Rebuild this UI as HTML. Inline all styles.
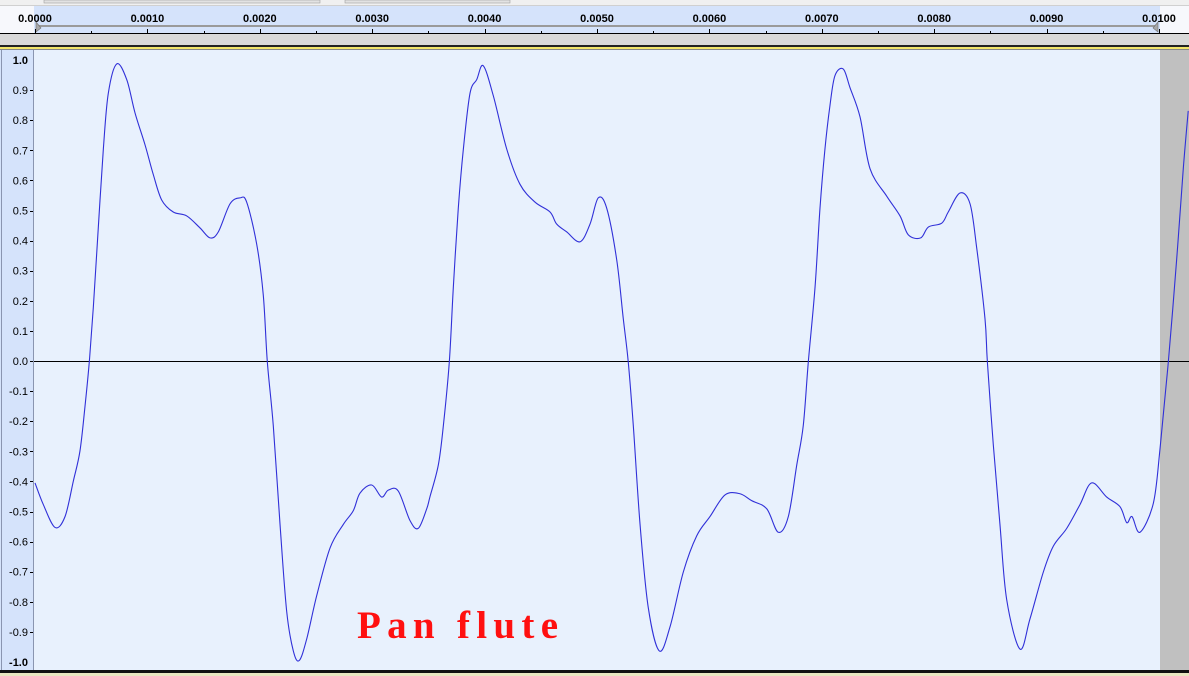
<!DOCTYPE html>
<html><head><meta charset="utf-8"><title>Pan flute waveform</title>
<style>
html,body{margin:0;padding:0;background:#f0f0f0;}
body{width:1189px;height:676px;overflow:hidden;font-family:"Liberation Sans",sans-serif;}
svg{display:block;}
</style></head>
<body>
<svg id="chart" width="1189" height="676" viewBox="0 0 1189 676" xmlns="http://www.w3.org/2000/svg">
  <rect x="0" y="0" width="1189" height="5" fill="#f0f0f0"/>
  <rect x="44" y="0" width="276" height="3" fill="#e2e2e2" stroke="#a0a0a0" stroke-width="0.6"/>
  <rect x="345" y="0" width="165" height="3" fill="#e2e2e2" stroke="#a0a0a0" stroke-width="0.6"/>
  <rect x="0" y="5" width="1189" height="29" fill="#f7f8fc"/>
  <rect x="34" y="5" width="1126" height="29" fill="#d5e3fb"/>
  <line x1="0" y1="5.5" x2="1189" y2="5.5" stroke="#d0d0d0"/>
  <rect x="37" y="25" width="1120" height="2" fill="#9a9a9a"/>
  <polygon points="36,22 41,28 36,32" fill="#a8a8a8" stroke="#707070" stroke-width="0.6"/>
  <polygon points="1158,22 1153,28 1158,32" fill="#a8a8a8" stroke="#707070" stroke-width="0.6"/>
  <g id="ruler-ticks"></g>
  <line x1="0" y1="33.5" x2="1189" y2="33.5" stroke="#000"/>
  <rect x="0" y="34" width="1189" height="11" fill="#d9d9d9"/>
  <rect x="0" y="45" width="1189" height="2" fill="#222"/>
  <rect x="0" y="47" width="1189" height="2" fill="#f2e56a"/>
  <line x1="0" y1="49.5" x2="1189" y2="49.5" stroke="#888"/>
  <rect x="0" y="50" width="34" height="620" fill="#d5e3fb"/>
  <line x1="33.5" y1="50" x2="33.5" y2="670" stroke="#8a95b0"/>
  <line x1="1.5" y1="50" x2="1.5" y2="670" stroke="#8a95b0"/>
  <rect x="34" y="50" width="1126" height="620" fill="#e8f1fd"/>
  <rect x="1160" y="50" width="29" height="620" fill="#c0c0c0"/>
  <g id="y-ticks"></g>
  <line x1="34" y1="361.5" x2="1189" y2="361.5" stroke="#000"/>
  <path id="wave" fill="none" stroke="#3030d8" stroke-width="1.1"/>
  <text x="357" y="638" textLength="201" lengthAdjust="spacing" font-family="'Liberation Serif',serif" font-weight="bold" font-size="39" fill="#ff1010">Pan flute</text>
  <rect x="0" y="670" width="1189" height="3" fill="#111"/>
  <rect x="0" y="673" width="1189" height="3" fill="#e8e6c0"/>
</svg>
<script>
const timeTickLabels = ["0.0000","0.0010","0.0020","0.0030","0.0040","0.0050","0.0060","0.0070","0.0080","0.0090","0.0100"];
const ampTickLabels = ["1.0","0.9","0.8","0.7","0.6","0.5","0.4","0.3","0.2","0.1","0.0","-0.1","-0.2","-0.3","-0.4","-0.5","-0.6","-0.7","-0.8","-0.9","-1.0"];
const sampleTimesMs = [0.000,0.074,0.178,0.267,0.341,0.400,0.445,0.483,0.519,0.563,0.608,0.652,0.727,0.816,0.890,0.979,1.052,1.127,1.230,1.350,1.468,1.557,1.631,1.735,1.824,1.883,1.972,2.031,2.067,2.120,2.180,2.239,2.298,2.351,2.417,2.506,2.625,2.743,2.832,2.891,2.996,3.084,3.143,3.232,3.336,3.410,3.485,3.514,3.588,3.633,3.686,3.722,3.766,3.811,3.870,3.930,3.988,4.077,4.197,4.315,4.448,4.582,4.641,4.730,4.849,4.938,5.011,5.086,5.175,5.234,5.278,5.323,5.383,5.456,5.554,5.649,5.768,5.887,6.005,6.139,6.272,6.376,6.510,6.613,6.702,6.777,6.835,6.880,6.940,6.984,7.028,7.073,7.117,7.191,7.251,7.340,7.429,7.577,7.696,7.770,7.880,7.948,8.067,8.125,8.229,8.319,8.378,8.452,8.473,8.526,8.585,8.645,8.763,8.852,8.971,9.060,9.179,9.297,9.401,9.535,9.653,9.713,9.760,9.831,9.950,10.009,10.083,10.157,10.216,10.260];
const sampleValues = [-0.405,-0.477,-0.553,-0.517,-0.399,-0.299,-0.150,-0.003,0.179,0.442,0.704,0.889,0.987,0.935,0.824,0.718,0.620,0.535,0.495,0.482,0.442,0.409,0.429,0.522,0.542,0.528,0.389,0.219,-0.003,-0.215,-0.543,-0.831,-0.963,-0.995,-0.924,-0.780,-0.621,-0.543,-0.497,-0.439,-0.412,-0.452,-0.429,-0.432,-0.530,-0.556,-0.491,-0.451,-0.346,-0.215,-0.003,0.246,0.508,0.704,0.889,0.935,0.981,0.882,0.704,0.587,0.528,0.495,0.455,0.429,0.396,0.455,0.542,0.508,0.337,0.140,-0.003,-0.215,-0.543,-0.819,-0.963,-0.884,-0.701,-0.581,-0.517,-0.445,-0.441,-0.464,-0.491,-0.569,-0.517,-0.346,-0.215,-0.003,0.246,0.508,0.704,0.850,0.948,0.970,0.908,0.811,0.639,0.548,0.482,0.419,0.409,0.445,0.458,0.495,0.558,0.522,0.376,0.140,-0.003,-0.279,-0.543,-0.793,-0.957,-0.857,-0.701,-0.615,-0.556,-0.477,-0.405,-0.452,-0.484,-0.537,-0.517,-0.569,-0.472,-0.292,-0.003,0.337,0.639,0.831];

const NS = "http://www.w3.org/2000/svg";
const X0 = 35, PX_PER_MS = 112.4;
const Y0 = 361, PX_PER_UNIT = 301;
function xScale(ms){ return X0 + ms * PX_PER_MS; }
function yScale(v){ return Y0 - v * PX_PER_UNIT; }

const rt = document.getElementById('ruler-ticks');
timeTickLabels.forEach(function(lbl, i){
  const x = xScale(parseFloat(lbl) * 1000);
  const t = document.createElementNS(NS, 'text');
  
  
  t.setAttribute('x', x);
  t.setAttribute('y', 22);
  t.setAttribute('text-anchor', 'middle');
  t.setAttribute('font-size', '11');
  t.setAttribute('font-weight', 'bold');
  t.setAttribute('fill', '#000');
  t.textContent = lbl;
  rt.appendChild(t);
  const tk = document.createElementNS(NS, 'line');
  
  
  tk.setAttribute('x1', Math.round(x) + 0.5); tk.setAttribute('x2', Math.round(x) + 0.5);
  tk.setAttribute('y1', 29); tk.setAttribute('y2', 33);
  tk.setAttribute('stroke', '#000');
  rt.appendChild(tk);
  if (i < timeTickLabels.length - 1) {
    const mx = x + PX_PER_MS / 2;
    const mk = document.createElementNS(NS, 'line');
    
    
    mk.setAttribute('x1', Math.round(mx) + 0.5); mk.setAttribute('x2', Math.round(mx) + 0.5);
    mk.setAttribute('y1', 31); mk.setAttribute('y2', 33);
    mk.setAttribute('stroke', '#000');
    rt.appendChild(mk);
  }
});

const yt = document.getElementById('y-ticks');
ampTickLabels.forEach(function(lbl){
  const v = parseFloat(lbl);
  const y = yScale(v);
  const t = document.createElementNS(NS, 'text');
  
  
  t.setAttribute('x', 28);
  t.setAttribute('y', y + 4);
  t.setAttribute('text-anchor', 'end');
  t.setAttribute('font-size', '11');
  if (Math.abs(v) === 1) t.setAttribute('font-weight', 'bold');
  t.setAttribute('fill', '#000');
  t.textContent = lbl;
  yt.appendChild(t);
  if (Math.abs(v) !== 1) {
    const tk = document.createElementNS(NS, 'line');
    
    
    tk.setAttribute('x1', 30); tk.setAttribute('x2', 33);
    tk.setAttribute('y1', Math.round(y) + 0.5); tk.setAttribute('y2', Math.round(y) + 0.5);
    tk.setAttribute('stroke', '#000');
    yt.appendChild(tk);
  }
});

// waveform: Catmull-Rom smoothed path through the samples
const pts = sampleTimesMs.map(function(ms, i){ return [xScale(ms), yScale(sampleValues[i])]; });
let d = 'M' + pts[0][0].toFixed(2) + ',' + pts[0][1].toFixed(2);
for (let i = 0; i < pts.length - 1; i++) {
  const p0 = pts[i > 0 ? i - 1 : i], p1 = pts[i], p2 = pts[i + 1], p3 = pts[i + 2 < pts.length ? i + 2 : i + 1];
  const c1x = p1[0] + (p2[0] - p0[0]) / 6, c1y = p1[1] + (p2[1] - p0[1]) / 6;
  const c2x = p2[0] - (p3[0] - p1[0]) / 6, c2y = p2[1] - (p3[1] - p1[1]) / 6;
  d += 'C' + c1x.toFixed(2) + ',' + c1y.toFixed(2) + ' ' + c2x.toFixed(2) + ',' + c2y.toFixed(2) + ' ' + p2[0].toFixed(2) + ',' + p2[1].toFixed(2);
}
document.getElementById('wave').setAttribute('d', d);
</script>
</body></html>
